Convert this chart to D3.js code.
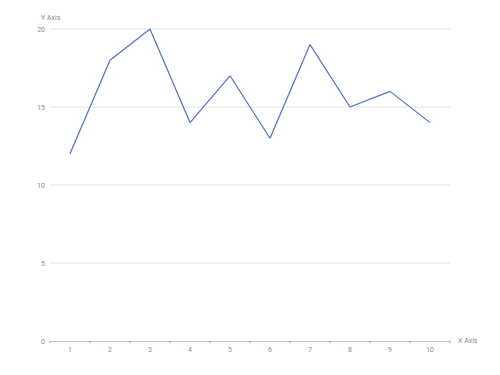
<!DOCTYPE html>
<html>
<head>
<meta charset="utf-8">
<script src="https://cdn.jsdelivr.net/npm/d3@7"></script>
<style>
  body { margin: 0; background: #fff; }
  svg { display: block; }
  text { -webkit-font-smoothing: antialiased; }
</style>
</head>
<body>
<div id="chart"></div>
<script>
const categories = ['1', '2', '3', '4', '5', '6', '7', '8', '9', '10']
const values = [12, 18, 20, 14, 17, 13, 19, 15, 16, 14]
const yTicks = [0, 5, 10, 15, 20]

const width = 500
const height = 375
const margin = { top: 29, right: 50, bottom: 34, left: 50 }
const FONT = 'Roboto, "Noto Sans", sans-serif'
const textColor = '#8c8c8c'
const axisColor = '#c4c4c4'

const svg = d3.select('#chart')
  .append('svg')
  .attr('width', width)
  .attr('height', height)

const x = d3.scaleBand()
  .domain(categories)
  .range([margin.left, width - margin.right])

const y = d3.scaleLinear()
  .domain([0, 20])
  .range([height - margin.bottom, margin.top])

// grid lines
svg.append('g')
  .selectAll('line')
  .data(yTicks.filter(d => d !== 0))
  .join('line')
  .attr('x1', margin.left)
  .attr('x2', width - margin.right)
  .attr('y1', d => y(d))
  .attr('y2', d => y(d))
  .attr('stroke', '#e3e3e3')
  .attr('stroke-width', 1)

// y axis labels
const yAxis = g => g
  .attr('transform', `translate(${margin.left},0)`)
  .call(d3.axisLeft(y).tickValues(yTicks).tickSize(0).tickPadding(5))
  .call(g => g.select('.domain').remove())
  .call(g => g.selectAll('text')
    .attr('fill', textColor)
    .style('font', `7px ${FONT}`))

// x axis with ticks at band boundaries
const xAxis = g => g
  .attr('transform', `translate(0,${height - margin.bottom})`)
  .call(d3.axisBottom(x).tickSize(0).tickPadding(6))
  .call(g => g.select('.domain')
    .attr('stroke', axisColor)
    .attr('stroke-width', 1))
  .call(g => g.selectAll('text')
    .attr('fill', textColor)
    .style('font', `7px ${FONT}`))

svg.append('g').call(yAxis)
svg.append('g').call(xAxis)

svg.append('g')
  .selectAll('line')
  .data(categories.concat(['end']))
  .join('line')
  .attr('x1', (d, i) => margin.left + i * x.step())
  .attr('x2', (d, i) => margin.left + i * x.step())
  .attr('y1', height - margin.bottom)
  .attr('y2', height - margin.bottom + 2)
  .attr('stroke', '#9a9a9a')

// line series
const line = d3.line()
  .x((d, i) => x(categories[i]) + x.bandwidth() / 2)
  .y(d => y(d))

svg.append('path')
  .datum(values)
  .attr('d', line)
  .attr('fill', 'none')
  .attr('stroke', '#5470c6')
  .attr('stroke-width', 1.2)
  .attr('stroke-linejoin', 'bevel')

// axis names
svg.append('text')
  .attr('x', margin.left - 9)
  .attr('y', margin.top - 9)
  .attr('fill', textColor)
  .style('font', `7px ${FONT}`)
  .text('Y Axis')

svg.append('text')
  .attr('x', width - margin.right + 8)
  .attr('y', height - margin.bottom)
  .attr('dy', '0.35em')
  .attr('fill', textColor)
  .style('font', `7px ${FONT}`)
  .text('X Axis')
</script>
</body>
</html>
